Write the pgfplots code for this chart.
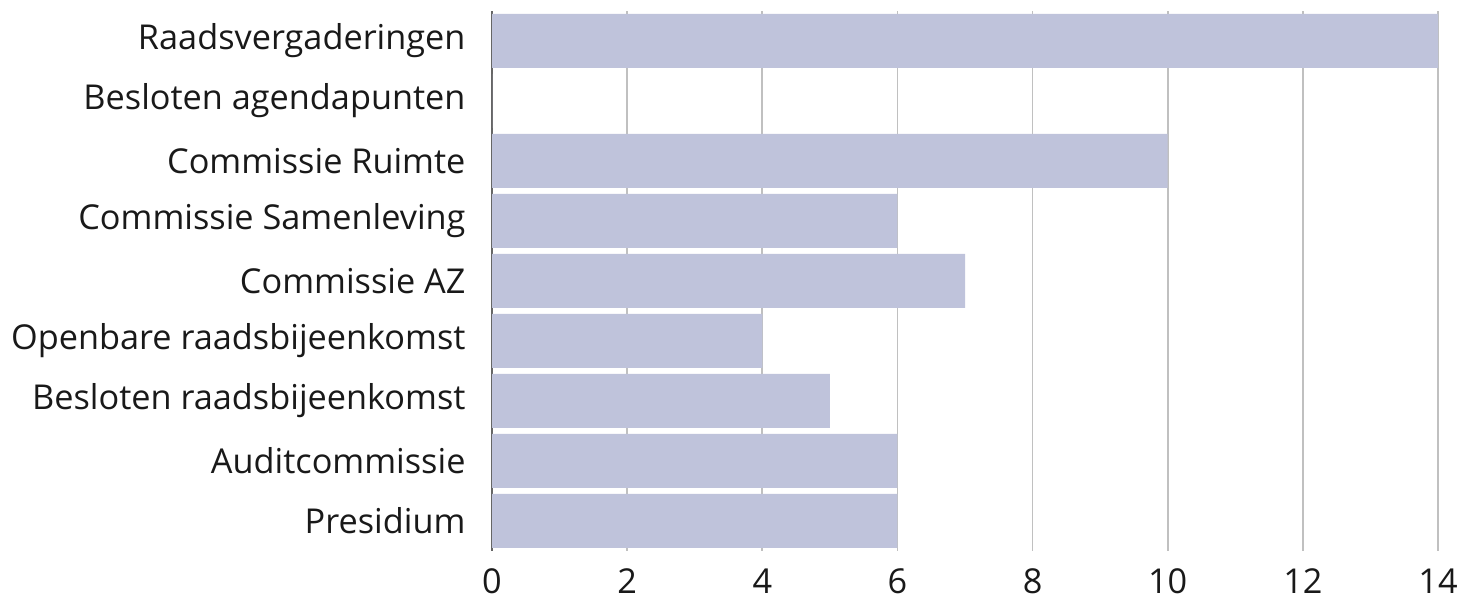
\documentclass[border=0pt]{standalone}
\usepackage{pgfplots}
\pgfplotsset{compat=1.18}
\usepackage{fontspec}
\setmainfont{Open Sans}
\definecolor{barc}{RGB}{191,195,219}
\definecolor{gridc}{RGB}{192,192,192}
\begin{document}
\begin{tikzpicture}[x=1bp,y=1bp]
\useasboundingbox (0,0) rectangle (1475,601);
\begin{axis}[
  at={(492bp,50bp)}, anchor=south west,
  scale only axis, width=946bp, height=540bp,
  xmin=0, xmax=14, ymin=-0.5, ymax=8.5,
  xbar, bar width=54bp,
  xtick={0,2,...,14},
  ytick={0,...,8},
  yticklabels={Presidium,Auditcommissie,Besloten raadsbijeenkomst,Openbare raadsbijeenkomst,Commissie AZ,Commissie Samenleving,Commissie Ruimte,Besloten agendapunten,Raadsvergaderingen},
  axis line style={draw=none},
  major tick length=0pt,
  xmajorgrids, grid style={gridc, line width=1.6bp},
  extra x ticks={0}, extra x tick labels={},
  extra x tick style={grid style={black!60, line width=1.4bp}},
  /pgf/number format/assume math mode=true,
  tick label style={font=\fontsize{34.4}{40}\selectfont, text=black!90},
  yticklabel style={xshift=-23bp},
  xticklabel style={yshift=-14bp},
]
\addplot[fill=barc, draw=none] coordinates {
(6,0) (6,1) (5,2) (4,3) (7,4) (6,5) (10,6) (0,7) (14,8)};
\end{axis}
\end{tikzpicture}
\end{document}
